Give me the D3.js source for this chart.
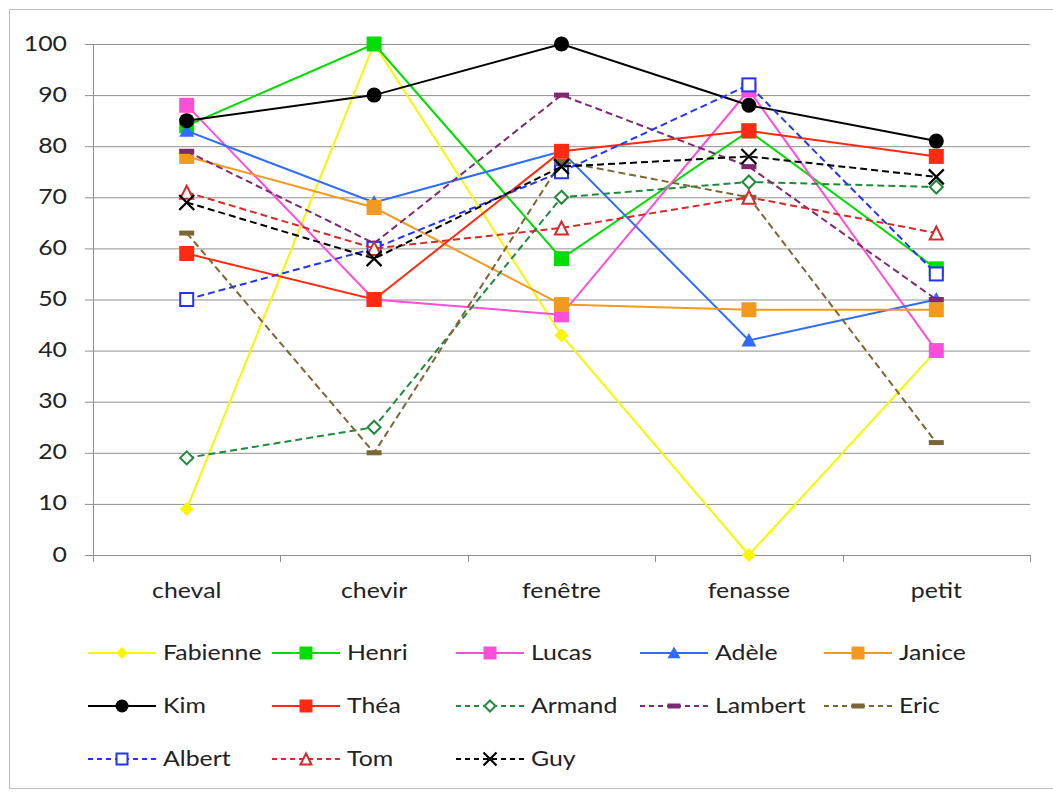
<!DOCTYPE html>
<html>
<head>
<meta charset="utf-8">
<script src="https://cdn.jsdelivr.net/npm/d3@7"></script>
<style>
  html, body { margin: 0; padding: 0; background: #fff; }
  svg { display: block; }
  text { font-family: Lato, "Liberation Sans", sans-serif; fill: #222; }
</style>
</head>
<body>
<svg id="chart" width="1053" height="796"></svg>
<script>
// Words tested
const categories = ["cheval", "chevir", "fenêtre", "fenasse", "petit"];
const yTicks = [0, 10, 20, 30, 40, 50, 60, 70, 80, 90, 100];

// Scores per person, one value per word
const names = ["Fabienne", "Henri", "Lucas", "Adèle", "Janice", "Kim", "Théa",
               "Armand", "Lambert", "Eric", "Albert", "Tom", "Guy"];
const fabienne = [9, 100, 43, 0, 40];
const henri    = [84, 100, 58, 83, 56];
const lucas    = [88, 50, 47, 91, 40];
const adele    = [83, 69, 79, 42, 50];
const janice   = [78, 68, 49, 48, 48];
const kim      = [85, 90, 100, 88, 81];
const thea     = [59, 50, 79, 83, 78];
const armand   = [19, 25, 70, 73, 72];
const lambert  = [79, 61, 90, 76, 50];
const eric     = [63, 20, 77, 70, 22];
const albert   = [50, 60, 75, 92, 55];
const tom      = [71, 60, 64, 70, 63];
const guy      = [69, 58, 76, 78, 74];
const values = [fabienne, henri, lucas, adele, janice, kim, thea,
                armand, lambert, eric, albert, tom, guy];

// Line colour, dash and marker for each person
const colors  = ["#f7f700", "#00dd00", "#ff4fd8", "#2f6bff", "#f29a1f", "#000000", "#ff2a12",
                 "#1f8a3a", "#7d2a72", "#7a6733", "#2233ff", "#d42a2a", "#000000"];
const dashed  = [false, false, false, false, false, false, false,
                 true, true, true, true, true, true];
const markers = ["diamond", "square", "square", "triangle", "square", "circle", "square",
                 "openDiamond", "dash", "dash", "openSquare", "openTriangle", "cross"];

const series = names.map((n, i) => ({ name: n, values: values[i], color: colors[i],
                                      dashed: dashed[i], marker: markers[i] }));

const svg = d3.select("#chart");
const FONT = 22, STRETCH = 1.13;

// Text helper: slightly widened glyphs
function label(parent, x0, y0, str, anchor) {
  return parent.append("g").attr("transform", `translate(${x0},${y0}) scale(${STRETCH},1)`)
    .append("text").attr("text-anchor", anchor || "start")
    .attr("dominant-baseline", "middle").attr("font-size", FONT).text(str);
}

// Outer frame
svg.append("rect").attr("x", 9.5).attr("y", 9.5).attr("width", 1060).attr("height", 779)
  .attr("fill", "#fff").attr("stroke", "#bdbdbd").attr("stroke-width", 1);

const plot = { left: 93, right: 1030, top: 44, bottom: 555 };

const x = d3.scaleBand().domain(categories).range([plot.left, plot.right]).padding(0);
const cx = c => x(c) + x.bandwidth() / 2;
const y = d3.scaleLinear().domain([0, 100]).range([plot.bottom, plot.top]);

// Horizontal gridlines
const yAxis = d3.axisLeft(y).tickValues(yTicks).tickSize(-(plot.right - plot.left)).tickFormat("");
const gy = svg.append("g").attr("transform", `translate(${plot.left},0)`).call(yAxis);
gy.select(".domain").remove();
gy.selectAll(".tick line").attr("stroke", "#8f8f8f").attr("stroke-width", 1).attr("x1", -8);

// Y labels
const gyl = svg.append("g");
yTicks.forEach(t => label(gyl, 67, y(t) + 1, String(t), "end"));

// Vertical axis line
svg.append("line").attr("x1", plot.left + 0.5).attr("x2", plot.left + 0.5)
  .attr("y1", plot.top).attr("y2", plot.bottom + 7).attr("stroke", "#8f8f8f");

// X axis with boundary ticks between categories
svg.append("line").attr("x1", plot.left).attr("x2", plot.right)
  .attr("y1", plot.bottom + 0.5).attr("y2", plot.bottom + 0.5).attr("stroke", "#8f8f8f");
const bounds = categories.map(c => x(c)).concat([plot.right]);
svg.append("g").selectAll("line").data(bounds).join("line")
  .attr("x1", d => Math.round(d) + 0.5).attr("x2", d => Math.round(d) + 0.5)
  .attr("y1", plot.bottom).attr("y2", plot.bottom + 7).attr("stroke", "#8f8f8f");
const gxl = svg.append("g");
categories.forEach(c => label(gxl, cx(c), plot.bottom + 37, c, "middle"));

// Marker drawing
function drawMarker(g, type, color, s) {
  const h = s / 2;
  switch (type) {
    case "square":
      g.append("rect").attr("x", -h).attr("y", -h).attr("width", s).attr("height", s).attr("fill", color);
      break;
    case "openSquare":
      g.append("rect").attr("x", -h + 1).attr("y", -h + 1).attr("width", s - 2).attr("height", s - 2)
        .attr("fill", "#fff").attr("stroke", color).attr("stroke-width", 2);
      break;
    case "circle":
      g.append("circle").attr("r", h).attr("fill", color);
      break;
    case "diamond":
      g.append("path").attr("d", `M0,${-h}L${h},0L0,${h}L${-h},0Z`).attr("fill", color);
      break;
    case "openDiamond":
      g.append("path").attr("d", `M0,${-h + 1}L${h - 1},0L0,${h - 1}L${-h + 1},0Z`)
        .attr("fill", "#fff").attr("stroke", color).attr("stroke-width", 2);
      break;
    case "triangle":
      g.append("path").attr("d", `M0,${-h}L${h},${h * 0.8}L${-h},${h * 0.8}Z`).attr("fill", color);
      break;
    case "openTriangle":
      g.append("path").attr("d", `M0,${-h + 1}L${h - 1},${h - 1}L${-h + 1},${h - 1}Z`)
        .attr("fill", "#fff").attr("stroke", color).attr("stroke-width", 2);
      break;
    case "dash":
      g.append("rect").attr("x", -h).attr("y", -2.5).attr("width", s).attr("height", 5).attr("fill", color);
      break;
    case "cross":
      g.append("path").attr("d", `M${-h},${-h}L${h},${h}M${h},${-h}L${-h},${h}`)
        .attr("stroke", color).attr("stroke-width", 2.2).attr("fill", "none");
      break;
  }
}

// Lines and markers, drawn in series order
const line = d3.line().x((d, i) => cx(categories[i])).y(d => y(d));
series.forEach(s => {
  const g = svg.append("g");
  g.append("path").datum(s.values).attr("d", line)
    .attr("fill", "none").attr("stroke", s.color).attr("stroke-width", 2)
    .attr("stroke-dasharray", s.dashed ? "7,4" : null);
  s.values.forEach((v, i) => {
    const m = g.append("g").attr("transform", `translate(${cx(categories[i])},${y(v)})`);
    drawMarker(m, s.marker, s.color, s.marker === "diamond" ? 14 : 15);
  });
});

// Legend: 5 columns, 3 rows
const legend = svg.append("g");
series.forEach((s, i) => {
  const col = i % 5, row = Math.floor(i / 5);
  const x0 = 88 + col * 184, yy = 653 + row * 53;
  const g = legend.append("g").attr("transform", `translate(${x0},${yy})`);
  g.append("line").attr("x1", 0).attr("x2", 68).attr("y1", 0).attr("y2", 0)
    .attr("stroke", s.color).attr("stroke-width", 2)
    .attr("stroke-dasharray", s.dashed ? "5,4" : null);
  const m = g.append("g").attr("transform", "translate(34,0)");
  drawMarker(m, s.marker, s.color, s.marker === "diamond" ? 12 : 13);
  label(g, 75, 1, s.name, "start");
});
</script>
</body>
</html>
